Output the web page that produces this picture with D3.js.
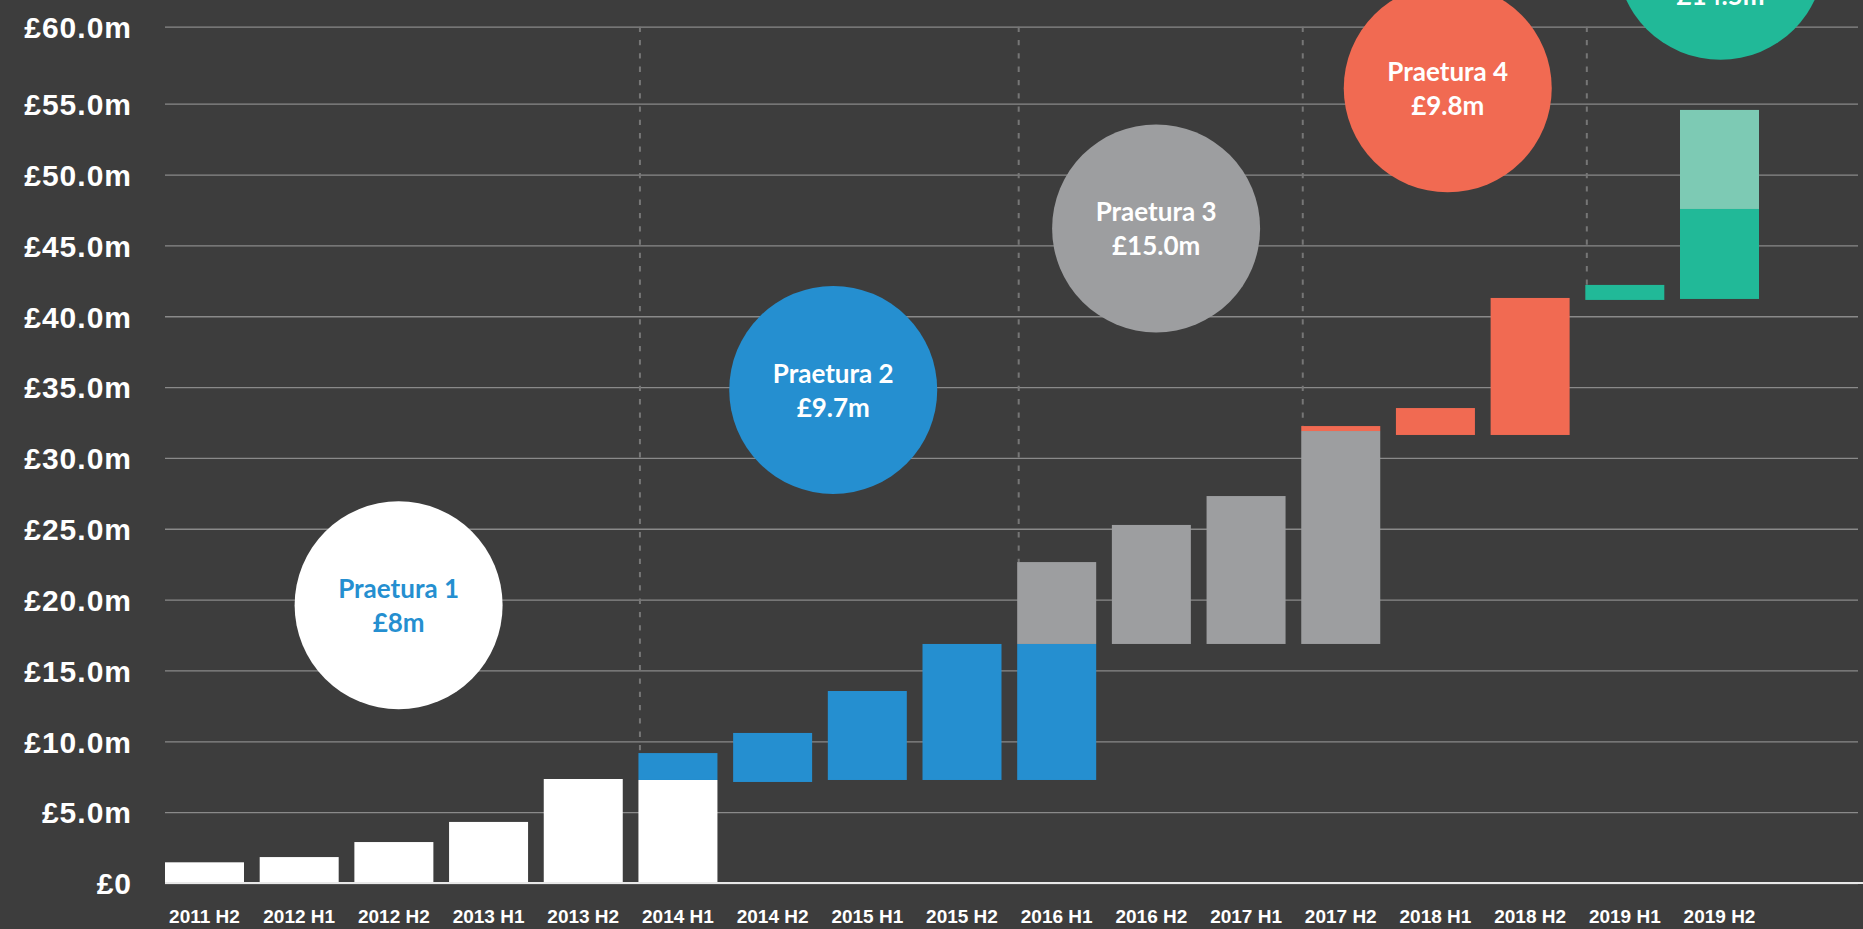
<!DOCTYPE html>
<html>
<head>
<meta charset="utf-8">
<script src="https://cdn.jsdelivr.net/npm/d3@7"></script>
<style>
  html, body { margin: 0; padding: 0; background: #3d3d3d; overflow: hidden; }
  svg { display: block; font-family: Lato, "Open Sans", sans-serif; }
</style>
</head>
<body>
<div id="chart"></div>
<script>
const categories = ['2011 H2', '2012 H1', '2012 H2', '2013 H1', '2013 H2', '2014 H1', '2014 H2',
  '2015 H1', '2015 H2', '2016 H1', '2016 H2', '2017 H1', '2017 H2', '2018 H1', '2018 H2',
  '2019 H1', '2019 H2'];

const yTicks = [0, 5, 10, 15, 20, 25, 30, 35, 40, 45, 50, 55, 60];

// [category, from £m, to £m]
const whiteBars = [['2011 H2', 0, 1.46], ['2012 H1', 0, 1.83], ['2012 H2', 0, 2.89],
  ['2013 H1', 0, 4.31], ['2013 H2', 0, 7.34], ['2014 H1', 0, 7.27]];
const blueBars = [['2014 H1', 7.27, 9.17], ['2014 H2', 7.13, 10.59], ['2015 H1', 7.27, 13.55],
  ['2015 H2', 7.27, 16.87], ['2016 H1', 7.27, 16.87]];
const greyBars = [['2016 H1', 16.87, 22.65], ['2016 H2', 16.87, 25.27], ['2017 H1', 16.87, 27.31],
  ['2017 H2', 16.87, 31.9]];
const orangeBars = [['2017 H2', 31.9, 32.25], ['2018 H1', 31.62, 33.52], ['2018 H2', 31.62, 41.29]];
const tealBars = [['2019 H1', 41.15, 42.21], ['2019 H2', 41.22, 47.57]];
const paleTealBars = [['2019 H2', 47.57, 54.56]];

// fund launches
const fundNames = ['Praetura 1', 'Praetura 2', 'Praetura 3', 'Praetura 4', 'Praetura 5'];
const fundSizes = ['£8m', '£9.7m', '£15.0m', '£9.8m', '£14.5m'];
const fundStarts = ['2014 H1', '2016 H1', '2017 H2', '2019 H1'];

const width = 1863, height = 929;
const colours = ['#ffffff', '#258fd0', '#9d9ea0', '#f16a52', '#21b998', '#7dcab4'];
const series = [whiteBars, blueBars, greyBars, orangeBars, tealBars, paleTealBars];

// bubble anchor: category, offset in steps, level in £m  (layout only)
const bubbleAt = [['2012 H2', 0.05, 19.6], ['2014 H2', 0.64, 34.8], ['2016 H2', 0.05, 46.2],
  ['2018 H1', 0.13, 56.0], ['2019 H2', 0.01, 64.6]];
const bubbleFill = ['#ffffff', '#258fd0', '#9d9ea0', '#f16a52', '#21b998'];
const bubbleText = ['#258fd0', '#ffffff', '#ffffff', '#ffffff', '#ffffff'];
const bubbleShift = [0, 0, 0, 0, 22];

const svg = d3.select('#chart').append('svg')
  .attr('width', width)
  .attr('height', height);

const left = 165, gridEnd = 1858;

const x = d3.scaleBand()
  .domain(categories)
  .range([left, 1759])
  .paddingInner(0.1657)
  .paddingOuter(0);

// top gridline sits a little higher than the rest in the original
const y = d3.scaleLinear()
  .domain([0, 55, 60])
  .range([883, 103.7, 26.7]);

// y axis + gridlines
const yAxis = svg.append('g')
  .attr('transform', `translate(${left},0)`)
  .call(d3.axisLeft(y)
    .tickValues(yTicks)
    .tickSize(-(gridEnd - left))
    .tickPadding(33)
    .tickFormat(d => d === 0 ? '£0' : '£' + d.toFixed(1) + 'm'));
yAxis.select('.domain').remove();
yAxis.selectAll('.tick line').attr('stroke', '#8a8a8a').attr('stroke-width', 1.3);
yAxis.selectAll('.tick text')
  .attr('fill', '#fff')
  .attr('dy', '0.36em')
  .style('font-size', '30px')
  .style('font-weight', 700)
  .style('letter-spacing', '1px');

// dashed markers where a new fund starts
const stackTop = cat => d3.max(series.flat().filter(s => s[0] === cat), s => s[2]);
svg.append('g').selectAll('line').data(fundStarts)
  .enter().append('line')
  .attr('x1', d => x(d) + 1.5)
  .attr('x2', d => x(d) + 1.5)
  .attr('y1', y(60))
  .attr('y2', d => y(stackTop(d)))
  .attr('stroke', '#767676')
  .attr('stroke-width', 2)
  .attr('stroke-dasharray', '5.3,8');

// bars
series.forEach((s, i) => {
  svg.append('g').selectAll('rect').data(s)
    .enter().append('rect')
    .attr('x', d => x(d[0]))
    .attr('y', d => y(d[2]))
    .attr('width', x.bandwidth())
    .attr('height', d => y(d[1]) - y(d[2]))
    .attr('fill', colours[i]);
});

// baseline
svg.append('line')
  .attr('x1', left).attr('x2', width)
  .attr('y1', y(0)).attr('y2', y(0))
  .attr('stroke', '#e8e8e8')
  .attr('stroke-width', 2);

// x axis labels
const xAxis = svg.append('g')
  .attr('transform', `translate(0,${y(0)})`)
  .call(d3.axisBottom(x).tickSize(0).tickPadding(27));
xAxis.select('.domain').remove();
xAxis.selectAll('.tick text')
  .attr('fill', '#fff')
  .style('font-size', '19px')
  .style('font-weight', 700);

// fund bubbles
const bubbles = svg.append('g').selectAll('g').data(fundNames)
  .enter().append('g')
  .attr('transform', (d, i) => {
    const b = bubbleAt[i];
    const cx = x(b[0]) + x.bandwidth() / 2 + b[1] * x.step();
    return `translate(${cx},${y(b[2])})`;
  });

bubbles.append('circle')
  .attr('r', 104)
  .attr('fill', (d, i) => bubbleFill[i]);

bubbles.append('text')
  .attr('text-anchor', 'middle')
  .attr('y', (d, i) => -7 + bubbleShift[i])
  .attr('fill', (d, i) => bubbleText[i])
  .style('font-size', '26px')
  .style('font-weight', 700)
  .text(d => d);

bubbles.append('text')
  .attr('text-anchor', 'middle')
  .attr('y', (d, i) => 27 + bubbleShift[i])
  .attr('fill', (d, i) => bubbleText[i])
  .style('font-size', '26px')
  .style('font-weight', 700)
  .text((d, i) => fundSizes[i]);
</script>
</body>
</html>
